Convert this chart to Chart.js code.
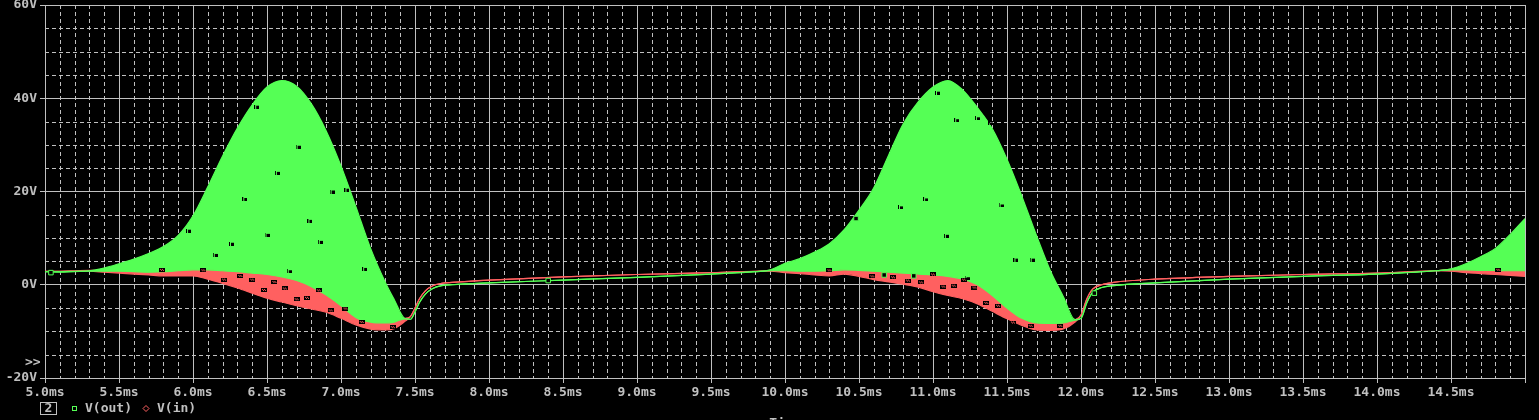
<!DOCTYPE html>
<html>
<head>
<meta charset="utf-8">
<title>V(out) / V(in)</title>
<script src="https://cdn.jsdelivr.net/npm/chart.js@4/dist/chart.umd.min.js"></script>
<style>
  html, body { margin: 0; padding: 0; background: #000; }
  #scope { display: block; }
</style>
</head>
<body>
<canvas id="scope" width="1539" height="420"></canvas>
<script>
/* ------------------------------------------------------------
   Transient plot: V(out) (green band) and V(in) (red band)
   ------------------------------------------------------------ */

// time axis, ms
const timeMs = [
  5.0, 5.1, 5.2, 5.3, 5.4, 5.5, 5.6, 5.7, 5.8, 5.9,
  6.0, 6.1, 6.2, 6.3, 6.4, 6.5, 6.6, 6.7, 6.8, 6.9,
  7.0, 7.1, 7.2, 7.3, 7.36, 7.43,
  7.47, 7.5, 7.53, 7.57, 7.62, 7.68, 7.75, 8.0, 8.5, 9.0, 9.5, 9.8,
  9.9, 10.0, 10.1, 10.2, 10.3, 10.4, 10.5, 10.6, 10.7, 10.8,
  10.9, 11.0, 11.1, 11.2, 11.3, 11.4, 11.5, 11.6, 11.7, 11.8, 11.88, 11.96,
  12.0, 12.04, 12.08, 12.14, 12.22, 12.5, 13.0, 13.5, 14.0, 14.4,
  14.5, 14.6, 14.7, 14.8, 14.9, 15.0
];

// V(out) envelope, upper and lower edge (V)
const outHi = [
  2.8, 2.8, 2.9, 3.0, 3.6, 4.5, 5.5, 6.7, 8.2, 10.6,
  14.8, 21.0, 27.6, 33.6, 38.6, 42.4, 43.8, 42.6, 38.8, 33.0,
  25.5, 16.8, 7.8, 0.5, -3.2, -7.2,
  -7.4, -5.8, -3.8, -2.0, -0.8, -0.2, 0.0, 0.4, 1.0, 1.6, 2.3, 2.8,
  3.2, 4.6, 5.6, 7.0, 8.8, 11.8, 16.0, 20.8, 27.8, 34.6,
  39.2, 42.4, 43.8, 41.8, 38.0, 33.5, 26.9, 19.0, 10.5, 2.5, -2.5, -7.5,
  -7.2, -3.8, -1.6, -0.6, -0.2, 0.4, 1.2, 1.8, 2.3, 3.0,
  3.4, 4.5, 6.0, 7.8, 10.8, 14.2
];
const outLo = [
  2.8, 2.7, 2.8, 2.9, 2.9, 2.9, 2.8, 2.7, 2.8, 3.0,
  3.2, 3.2, 3.0, 2.8, 2.5, 2.2, 1.7, 0.9, -0.4, -2.2,
  -4.5, -7.0, -8.0, -8.2, -8.0, -7.3,
  -7.4, -5.8, -3.8, -2.0, -0.8, -0.2, 0.0, 0.4, 1.0, 1.6, 2.3, 2.8,
  3.0, 3.0, 2.9, 2.9, 3.0, 3.2, 3.1, 2.9, 2.7, 2.5,
  2.3, 2.1, 1.8, 1.2, 0.0, -2.3, -5.0, -7.2, -8.2, -8.3, -8.2, -7.6,
  -7.2, -3.8, -1.6, -0.6, -0.2, 0.4, 1.2, 1.8, 2.3, 3.0,
  3.2, 3.2, 3.1, 3.1, 3.0, 3.0
];

// V(in) envelope, upper and lower edge (V)
const inHi = [
  2.9, 2.9, 3.0, 3.1, 3.1, 3.1, 3.1, 3.0, 3.1, 3.2,
  3.4, 3.4, 3.3, 3.1, 2.8, 2.5, 2.0, 1.2, 0.0, -1.8,
  -4.0, -6.6, -7.6, -7.9, -7.8, -7.2,
  -6.8, -5.0, -3.0, -1.3, -0.2, 0.3, 0.5, 1.0, 1.7, 2.2, 2.6, 2.9,
  3.1, 3.2, 3.2, 3.2, 3.3, 3.4, 3.4, 3.2, 3.0, 2.8,
  2.6, 2.4, 2.1, 1.5, 0.4, -1.8, -4.6, -6.8, -7.9, -8.0, -7.9, -7.5,
  -6.5, -3.0, -0.9, 0.0, 0.5, 1.2, 1.8, 2.2, 2.5, 3.0,
  3.3, 3.3, 3.3, 3.3, 3.2, 3.2
];
const inLo = [
  2.9, 2.9, 2.9, 2.9, 2.7, 2.5, 2.3, 2.1, 1.9, 1.9,
  1.9, 1.2, 0.3, -0.7, -1.8, -2.9, -3.7, -4.5, -5.2, -5.9,
  -7.2, -8.6, -9.5, -9.7, -9.4, -7.9,
  -6.8, -5.0, -3.0, -1.3, -0.2, 0.3, 0.5, 1.0, 1.7, 2.2, 2.6, 2.9,
  2.9, 2.6, 2.4, 2.1, 1.9, 2.3, 1.8, 1.1, 0.6, 0.1,
  -0.5, -1.5, -2.3, -3.0, -4.1, -5.7, -7.3, -8.7, -9.7, -9.8, -9.5, -8.0,
  -6.5, -3.0, -0.9, 0.0, 0.5, 1.2, 1.8, 2.2, 2.5, 3.0,
  2.9, 2.6, 2.4, 2.2, 2.0, 1.8
];

// V(out) trace markers (hollow green squares)
const outMarkT = [5.04, 8.40, 10.48, 10.67, 10.87, 12.09];
const outMarkV = [2.6, 0.9, 14.2, 2.1, 1.9, -1.8];

// V(out) markers overdrawn inside the green band
const outGlyphT = [
  5.97, 6.15, 6.26, 6.35, 6.43, 6.50, 6.57, 6.65, 6.71, 6.79, 6.86, 6.94, 7.04, 7.16,
  10.78, 10.95, 11.03, 11.09, 11.16, 11.23, 11.30, 11.39, 11.46, 11.56, 11.67
];
const outGlyphV = [
  11.6, 6.4, 8.8, 18.4, 38.2, 10.7, 24.0, 2.9, 29.6, 13.7, 9.2, 20.0, 20.4, 3.4,
  16.6, 18.3, 41.2, 10.5, 35.3, 1.4, 35.7, 34.6, 17.0, 5.4, 5.4
];

// V(in) markers overdrawn inside the red band
const inGlyphT = [
  5.79, 6.07, 6.21, 6.32, 6.40, 6.48, 6.55, 6.62, 6.70, 6.77, 6.85, 6.93, 7.03, 7.14, 7.35,
  10.30, 10.59, 10.73, 10.83, 10.92, 11.00, 11.07, 11.14, 11.21, 11.28, 11.36, 11.44,
  11.54, 11.66, 11.86, 14.82
];
const inGlyphV = [
  3.2, 3.1, 1.1, 1.9, 1.1, -1.1, 0.6, -0.8, -3.1, -2.8, -1.2, -5.5, -5.1, -8.0, -9.1,
  3.1, 1.8, 1.6, 0.9, 0.5, 2.2, -0.4, -0.2, 1.1, -0.6, -3.9, -4.5,
  -8.1, -8.8, -8.8, 3.2
];

// axis ranges and grid steps
const T_MIN = 5, T_MAX = 15, T_MAJOR = 0.5, T_MINOR = 0.1;
const V_MIN = -20, V_MAX = 60, V_MAJOR = 20, V_MINOR = 5;

const GREEN = '#55ff55';
const RED = '#ff6060';
const GRAY = '#c0c0c0';
const FONT = 'DejaVu Sans Mono';

const toPts = (xs, ys) => xs.map((x, i) => ({ x, y: ys[i] }));

// little bitmap glyphs used by the marker datasets
function makeOutGlyph() {
  const c = document.createElement('canvas');
  c.width = 5; c.height = 4;
  const g = c.getContext('2d');
  g.fillStyle = '#000';
  g.fillRect(0, 0, 1, 4);
  g.fillRect(2, 1, 3, 3);
  return c;
}
function makeInGlyph() {
  const c = document.createElement('canvas');
  c.width = 6; c.height = 4;
  const g = c.getContext('2d');
  g.fillStyle = '#000';
  g.fillRect(0, 0, 6, 4);
  g.fillStyle = RED;
  for (let y = 1; y < 3; y++) {
    for (let x = 1; x < 5; x++) {
      if ((x + y) % 2 === 0) g.fillRect(x, y, 1, 1);
    }
  }
  return c;
}

// band edge (no points, smooth)
const edge = (label, xs, ys, color, fill) => ({
  label,
  data: toPts(xs, ys),
  borderColor: color,
  backgroundColor: color,
  borderWidth: 1.2,
  pointRadius: 0,
  cubicInterpolationMode: 'monotone',
  fill
});

// dashed minor grid between the solid major lines
const minorGrid = {
  id: 'minorGrid',
  beforeDatasetsDraw(chart) {
    const { ctx, chartArea: a, scales: { x, y } } = chart;
    ctx.save();
    ctx.strokeStyle = GRAY;
    ctx.lineWidth = 1;
    ctx.setLineDash([4, 3]);
    ctx.beginPath();
    const nT = Math.round((T_MAX - T_MIN) / T_MINOR);
    for (let i = 1; i < nT; i++) {
      if (i % Math.round(T_MAJOR / T_MINOR) === 0) continue;
      const px = Math.round(x.getPixelForValue(T_MIN + i * T_MINOR)) + 0.5;
      ctx.moveTo(px, a.top);
      ctx.lineTo(px, a.bottom);
    }
    const nV = Math.round((V_MAX - V_MIN) / V_MINOR);
    for (let i = 1; i < nV; i++) {
      if (i % Math.round(V_MAJOR / V_MINOR) === 0) continue;
      const py = Math.round(y.getPixelForValue(V_MIN + i * V_MINOR)) + 0.5;
      ctx.moveTo(a.left, py);
      ctx.lineTo(a.right, py);
    }
    ctx.stroke();
    ctx.restore();
  }
};

// extra texts: ">>" marker, legend row, cut-off axis title
const scopeText = {
  id: 'scopeText',
  afterDraw(chart) {
    const g = chart.ctx;
    g.save();
    g.font = `bold 13px "${FONT}"`;
    g.fillStyle = GRAY;
    g.textBaseline = 'middle';
    g.textAlign = 'left';
    g.fillText('>>', 25, 363);

    // legend
    g.strokeStyle = GRAY;
    g.lineWidth = 1;
    g.strokeRect(40.5, 402.5, 16, 12);
    g.textAlign = 'center';
    g.fillText('2', 48.5, 409);
    g.strokeStyle = GREEN;
    g.strokeRect(72.5, 406.5, 4, 4);
    g.textAlign = 'left';
    g.fillText('V(out)', 85, 409);
    g.strokeStyle = RED;
    g.beginPath();
    g.moveTo(146, 405.5); g.lineTo(149, 408.5); g.lineTo(146, 411.5); g.lineTo(143, 408.5);
    g.closePath();
    g.stroke();
    g.fillText('V(in)', 157, 409);

    g.textAlign = 'center';
    g.textBaseline = 'top';
    g.fillText('Time', 785, 417);
    g.restore();
  }
};

const tickFont = { family: FONT, size: 13, weight: 'bold' };

new Chart(document.getElementById('scope'), {
  type: 'line',
  data: {
    datasets: [
      {
        label: 'outGlyph',
        data: toPts(outGlyphT, outGlyphV),
        showLine: false,
        pointStyle: makeOutGlyph(),
        pointRadius: 3
      },
      {
        label: 'inGlyph',
        data: toPts(inGlyphT, inGlyphV),
        showLine: false,
        pointStyle: makeInGlyph(),
        pointRadius: 3
      },
      {
        label: 'outMark',
        data: toPts(outMarkT, outMarkV),
        showLine: false,
        pointStyle: 'rect',
        pointRadius: 3.2,
        pointBorderColor: GREEN,
        pointBackgroundColor: '#000',
        pointBorderWidth: 1
      },
      edge('V(out)', timeMs, outHi, GREEN, '+1'),
      edge('V(out) lo', timeMs, outLo, GREEN, false),
      edge('V(in)', timeMs, inHi, RED, '+1'),
      edge('V(in) lo', timeMs, inLo, RED, false)
    ]
  },
  options: {
    responsive: false,
    animation: false,
    layout: { padding: { top: 5, right: 14, left: 0, bottom: 0 } },
    plugins: {
      legend: { display: false },
      tooltip: { enabled: false }
    },
    scales: {
      x: {
        type: 'linear',
        position: 'bottom',
        min: T_MIN,
        max: T_MAX,
        afterFit: (s) => { s.height = 42; s.paddingLeft = 0; s.paddingRight = 0; },
        grid: { color: GRAY, lineWidth: 1, tickLength: 5, tickColor: GRAY },
        border: { color: GRAY },
        ticks: {
          stepSize: T_MAJOR,
          autoSkip: false,
          maxRotation: 0,
          padding: 2,
          color: GRAY,
          font: tickFont,
          callback: (v) => (v > T_MAX - 0.1 ? '' : v.toFixed(1) + 'ms')
        }
      },
      y: {
        type: 'linear',
        position: 'left',
        min: V_MIN,
        max: V_MAX,
        afterFit: (s) => { s.width = 45; s.paddingTop = 0; s.paddingBottom = 0; },
        grid: { color: GRAY, lineWidth: 1, tickLength: 5, tickColor: GRAY },
        border: { color: GRAY },
        ticks: {
          stepSize: V_MAJOR,
          padding: 3,
          color: GRAY,
          font: tickFont,
          callback: (v) => v + 'V'
        }
      }
    }
  },
  plugins: [minorGrid, scopeText]
});
</script>
</body>
</html>
